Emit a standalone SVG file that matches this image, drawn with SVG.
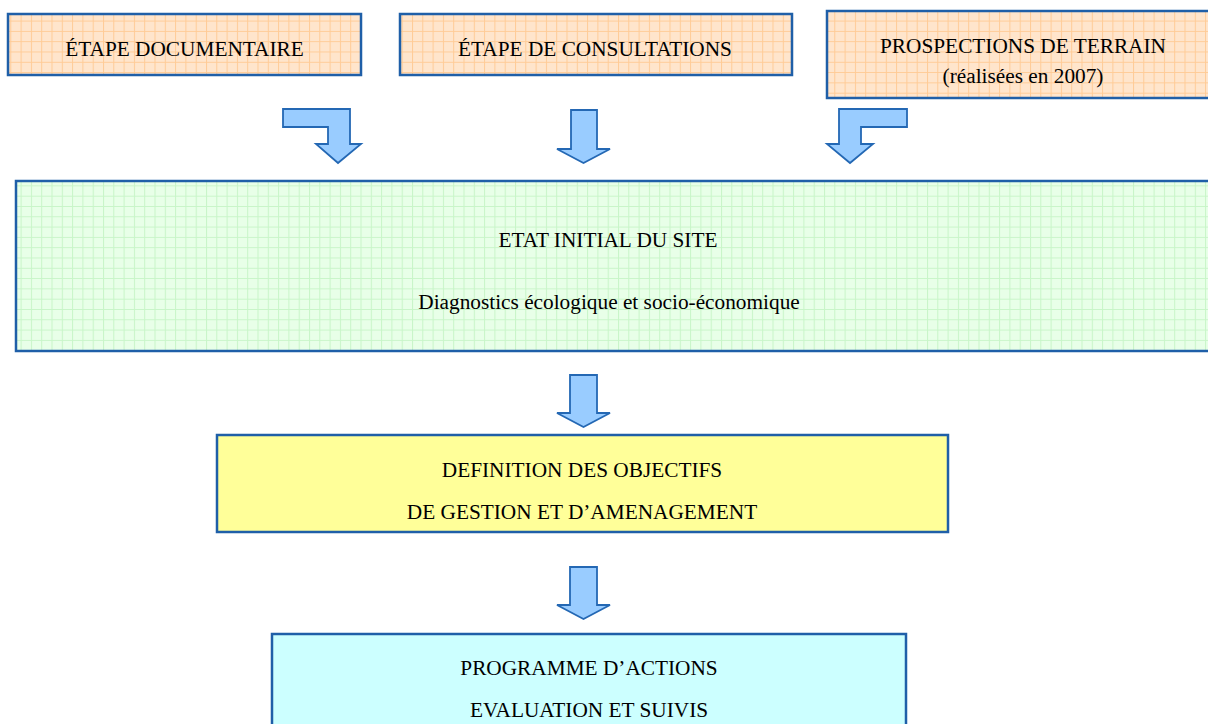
<svg xmlns="http://www.w3.org/2000/svg" width="1208" height="724" viewBox="0 0 1208 724">
  <defs>
    <pattern id="gridOrange" patternUnits="userSpaceOnUse" width="10.3" height="10.3">
      <rect width="10.3" height="10.3" fill="#FFE5CC"/>
      <path d="M0,0.5 H10.3 M0.5,0 V10.3" stroke="#FFCB96" stroke-width="1" fill="none"/>
    </pattern>
    <pattern id="gridGreen" patternUnits="userSpaceOnUse" width="10.3" height="10.3">
      <rect width="10.3" height="10.3" fill="#E8FFE8"/>
      <path d="M0,0.5 H10.3 M0.5,0 V10.3" stroke="#C8F5C8" stroke-width="1" fill="none"/>
    </pattern>
  </defs>
  <style>
    .box { stroke: #1F5FA8; stroke-width: 2.5; }
    .arrow { fill: #99CCFF; stroke: #2468B4; stroke-width: 1.8; stroke-linejoin: miter; }
    .t { font-family: "Liberation Serif", "Times New Roman", serif; font-size: 21.3px; fill: #000; text-anchor: middle; }
  </style>
  <rect width="1208" height="724" fill="#FFFFFF"/>

  <g id="etape-documentaire">
    <rect class="box" x="8" y="14" width="353" height="61" fill="url(#gridOrange)"/>
    <text class="t" x="184.5" y="56">ÉTAPE DOCUMENTAIRE</text>
  </g>

  <g id="etape-consultations">
    <rect class="box" x="400" y="14" width="392" height="61" fill="url(#gridOrange)"/>
    <text class="t" x="595" y="56">ÉTAPE DE CONSULTATIONS</text>
  </g>

  <g id="prospections">
    <rect class="box" x="827" y="11" width="392" height="87" fill="url(#gridOrange)"/>
    <text class="t" x="1023" y="53">PROSPECTIONS DE TERRAIN</text>
    <text class="t" x="1023" y="83">(réalisées en 2007)</text>
  </g>

  <g id="etat-initial">
    <rect class="box" x="16" y="181" width="1200" height="170" fill="url(#gridGreen)"/>
    <text class="t" x="608" y="247">ETAT INITIAL DU SITE</text>
    <text class="t" x="609" y="309">Diagnostics écologique et socio-économique</text>
  </g>

  <g id="definition-objectifs">
    <rect class="box" x="217" y="435" width="731" height="97" fill="#FFFF99"/>
    <text class="t" x="582" y="477">DEFINITION DES OBJECTIFS</text>
    <text class="t" x="582" y="519">DE GESTION ET D’AMENAGEMENT</text>
  </g>

  <g id="programme-actions">
    <rect class="box" x="272" y="634" width="634" height="110" fill="#CCFFFF"/>
    <text class="t" x="589" y="675">PROGRAMME D’ACTIONS</text>
    <text class="t" x="589" y="717">EVALUATION ET SUIVIS</text>
  </g>

  <g id="connectors">
    <path class="arrow" d="M283,109 L350,109 L350,144 L361,144 L338,163 L316,144 L328,144 L328,127 L283,127 Z"/>
    <path class="arrow" d="M571,110 L597,110 L597,149 L610,149 L583.5,163 L557,149 L571,149 Z"/>
    <path class="arrow" d="M839,109 L907,109 L907,127 L861,127 L861,144 L873,144 L850,163 L827,144 L839,144 Z"/>
    <path class="arrow" d="M570,375 L597,375 L597,413 L610,413 L583.5,427 L557,413 L570,413 Z"/>
    <path class="arrow" d="M570,567 L597,567 L597,605 L610,605 L583.5,619 L557,605 L570,605 Z"/>
  </g>
</svg>
